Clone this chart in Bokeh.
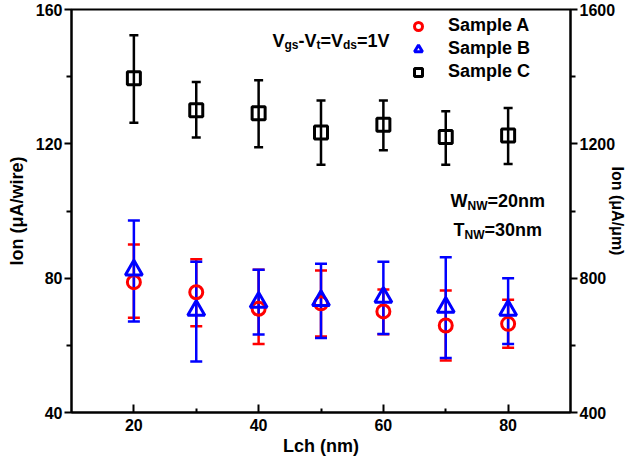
import math
from bokeh.plotting import figure
from bokeh.models import (Label, Legend, LegendItem, Whisker, TeeHead, ColumnDataSource,
                          Range1d, LinearAxis, FixedTicker)
from bokeh.embed import file_html
from bokeh.resources import INLINE

# ---------------- data ----------------
L_ch = [20, 30, 40, 50, 60, 70, 80]

A_val = [78.8, 75.8, 70.9, 72.5, 70.1, 65.9, 66.4]
A_hi = [90.0, 85.6, 82.5, 82.3, 76.6, 76.3, 73.6]
A_lo = [68.2, 65.7, 60.4, 62.6, 63.3, 55.5, 59.3]

B_val = [82.4, 70.4, 72.8, 73.3, 74.3, 71.3, 70.4]
B_hi = [97.2, 84.9, 82.5, 84.3, 84.9, 86.2, 80.0]
B_lo = [67.1, 55.2, 63.2, 62.2, 63.4, 56.2, 60.4]

C_val = [139.5, 130.0, 129.1, 123.4, 125.7, 122.0, 122.5]
C_hi = [152.3, 138.4, 138.9, 132.9, 132.9, 129.7, 130.7]
C_lo = [126.3, 121.9, 119.0, 113.8, 118.1, 113.8, 114.0]

x_ticks = [20, 40, 60, 80]
x_minor = [30, 50, 70]
y_ticks = [40, 80, 120, 160]
y_minor = [60, 100, 140]
y2_ticks = [400, 800, 1200, 1600]
y2_minor = [600, 1000, 1400]

FONT = "Liberation Sans"
RED = "#ff0000"
BLUE = "#0000ff"
BLACK = "#000000"

# frame position on the canvas (px)
FL, FT, FR, FB = 71, 9, 570, 412
W, H = 633, 463

p = figure(width=W, height=H, output_backend="svg", toolbar_location=None,
           x_range=Range1d(10, 90), y_range=Range1d(40, 160),
           min_border_left=FL, min_border_right=W - FR,
           min_border_top=FT, min_border_bottom=H - FB,
           background_fill_color="white", border_fill_color="white")
p.extra_y_ranges = {"right": Range1d(400, 1600)}
p.grid.visible = False
p.outline_line_color = BLACK
p.outline_line_width = 2
p.outline_line_alpha = 1

def style_axis(ax, tin, tout, mtin, mtout, standoff, label, lsize, lstandoff):
    ax.axis_line_width = 2
    ax.axis_line_color = BLACK
    ax.major_tick_line_width = 2
    ax.minor_tick_line_width = 2
    ax.major_tick_line_color = BLACK
    ax.minor_tick_line_color = BLACK
    ax.major_tick_in = tin
    ax.major_tick_out = tout
    ax.minor_tick_in = mtin
    ax.minor_tick_out = mtout
    ax.major_label_text_font = FONT
    ax.major_label_text_font_style = "bold"
    ax.major_label_text_font_size = "16px"
    ax.major_label_text_color = BLACK
    ax.major_label_standoff = standoff
    ax.axis_label = label
    ax.axis_label_text_font = FONT
    ax.axis_label_text_font_style = "bold"
    ax.axis_label_text_font_size = lsize
    ax.axis_label_text_color = BLACK
    ax.axis_label_standoff = lstandoff

p.xaxis.ticker = FixedTicker(ticks=x_ticks, minor_ticks=x_minor)
p.yaxis.ticker = FixedTicker(ticks=y_ticks, minor_ticks=y_minor)
style_axis(p.xaxis[0], 8, 0, 4, 0, 6, "Lch (nm)", "18px", 2)
style_axis(p.yaxis[0], 0, 7, 0, 5, 2, "Ion (μA/wire)", "18px", 6)

ax2 = LinearAxis(y_range_name="right",
                 ticker=FixedTicker(ticks=y2_ticks, minor_ticks=y2_minor))
style_axis(ax2, 0, 7, 0, 5, 2, "Ion (μA/μm)", "16px", -9)
p.add_layout(ax2, "right")

# ---------------- marks ----------------
srcA = ColumnDataSource(dict(x=L_ch, y=A_val, hi=A_hi, lo=A_lo))
srcB = ColumnDataSource(dict(x=L_ch, y=B_val, hi=B_hi, lo=B_lo))
srcC = ColumnDataSource(dict(x=L_ch, y=C_val, hi=C_hi, lo=C_lo))

def whisk(src, color, lw, head):
    w = Whisker(source=src, base="x", upper="hi", lower="lo",
                line_color=color, line_width=lw,
                upper_head=TeeHead(size=head, line_color=color, line_width=lw),
                lower_head=TeeHead(size=head, line_color=color, line_width=lw))
    p.add_layout(w)

whisk(srcC, BLACK, 2.5, 9)
whisk(srcA, RED, 2.5, 12)
whisk(srcB, BLUE, 2.5, 12)

rC = p.scatter("x", "y", source=srcC, marker="square", size=13,
               line_color=BLACK, line_width=3, fill_color="white", fill_alpha=0)
rA = p.scatter("x", "y", source=srcA, marker="circle", size=13,
               line_color=RED, line_width=3, fill_alpha=0)
rB = p.scatter("x", "y", source=srcB, marker="triangle", size=17,
               line_color=BLUE, line_width=3, fill_alpha=0)

legend = Legend(items=[LegendItem(label="Sample A", renderers=[rA]),
                       LegendItem(label="Sample B", renderers=[rB]),
                       LegendItem(label="Sample C", renderers=[rC])],
                location=(337, 330), padding=0, margin=0, spacing=2,
                label_standoff=20, glyph_width=20, glyph_height=20, label_height=20,
                label_text_font=FONT, label_text_font_style="bold",
                label_text_font_size="18px", label_text_color=BLACK,
                background_fill_alpha=0, border_line_alpha=0)
p.add_layout(legend)

# ---------------- composed texts (with subscripts) ----------------
ADV = {'I': 278, 'o': 611, 'n': 611, ' ': 278, '(': 333, 'μ': 576, 'A': 722, '/': 278,
       'w': 778, 'i': 278, 'r': 389, 'e': 556, ')': 333, 'm': 889, 'L': 611, 'c': 556,
       'h': 611, 'V': 667, 'g': 611, 's': 556, '-': 333, 't': 333, '=': 584, 'd': 611,
       '1': 556, 'W': 944, 'N': 722, 'T': 611, '2': 556, '0': 556, '3': 556}

def tw(s, size):
    return sum(ADV.get(c, 556) for c in s) * size / 1000.0

def rich(x, y, parts):
    """x, y: canvas px of the start of the baseline. parts: (text, size, drop)."""
    adv = 0.0
    for text, size, drop in parts:
        p.add_layout(Label(x=x + adv - FL, y=FB - (y + drop), x_units="screen", y_units="screen",
                           text=text, text_font=FONT, text_font_style="bold",
                           text_font_size=f"{size}px", text_color=BLACK,
                           text_align="left", text_baseline="alphabetic"))
        adv += tw(text, size)

BIG, SUB, DROP = 18, 12, 4
rich(272, 40, [("V", BIG, 0), ("gs", SUB, DROP), ("-V", BIG, 0), ("t", SUB, DROP),
               ("=V", BIG, 0), ("ds", SUB, DROP), ("=1V", BIG, 0)])
rich(450, 200, [("W", BIG, 0), ("NW", SUB, 5), ("=20nm", BIG, 0)])
rich(453, 229, [("T", BIG, 0), ("NW", SUB, 5), ("=30nm", BIG, 0)])

open("out.html", "w").write(file_html(p, INLINE))
